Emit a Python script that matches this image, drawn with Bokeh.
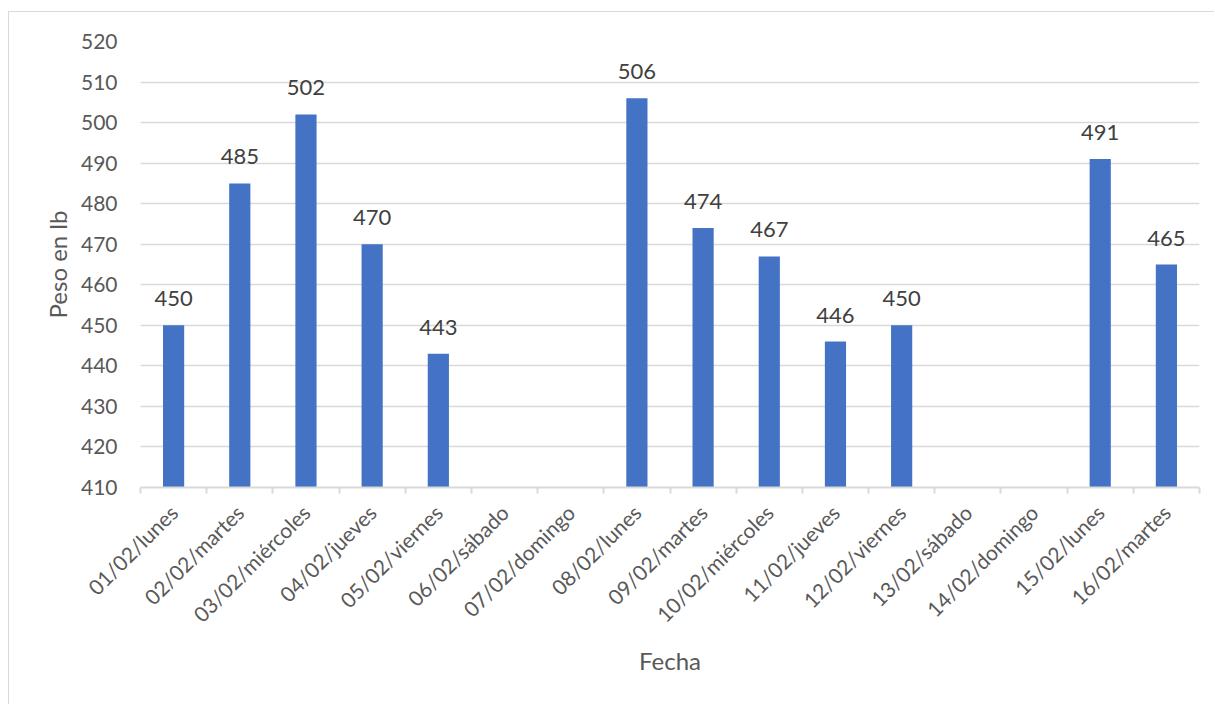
import numpy as np
from bokeh.plotting import figure
from bokeh.models import Range1d, FixedTicker, ColumnDataSource
from bokeh.embed import file_html
from bokeh.resources import INLINE
from bokeh.core.properties import value

categories = ["01/02/lunes", "02/02/martes", "03/02/miércoles", "04/02/jueves",
              "05/02/viernes", "06/02/sábado", "07/02/domingo", "08/02/lunes",
              "09/02/martes", "10/02/miércoles", "11/02/jueves", "12/02/viernes",
              "13/02/sábado", "14/02/domingo", "15/02/lunes", "16/02/martes"]
weights = [450, 485, 502, 470, 443, None, None, 506, 474, 467, 446, 450, None, None, 491, 465]
y_ticks = [410, 420, 430, 440, 450, 460, 470, 480, 490, 500, 510, 520]
y_label = "Peso en lb"
x_label = "Fecha"

FONT = "Lato"
TICK_COLOR = "#595959"
GRID = "#D9D9D9"

n = len(categories)
centers = np.arange(n) + 0.5
idx = [i for i, v in enumerate(weights) if v is not None]
src = ColumnDataSource(dict(
    x=[centers[i] for i in idx],
    top=[weights[i] for i in idx],
    label=[str(weights[i]) for i in idx],
))

p = figure(width=1206, height=693, output_backend="svg", toolbar_location=None,
           x_range=Range1d(0, n), y_range=Range1d(min(y_ticks), max(y_ticks)),
           min_border_left=131, min_border_right=16, min_border_top=29, min_border_bottom=218)
p.margin = (11, 0, 0, 8)
p.styles = {"border-left": "1px solid #D9D9D9", "border-top": "1px solid #D9D9D9"}
p.outline_line_color = None

p.vbar(x="x", top="top", bottom=min(y_ticks), width=0.32, source=src,
       fill_color="#4472C4", line_color=None)
p.text(x="x", y="top", text="label", source=src, text_align="center",
       text_baseline="bottom", y_offset=-19, text_font=value(FONT),
       text_font_size="22px", text_color="#404040")

# y axis
p.yaxis.ticker = FixedTicker(ticks=y_ticks)
p.yaxis.axis_line_color = None
p.yaxis.major_tick_line_color = None
p.yaxis.minor_tick_line_color = None
p.yaxis.major_label_standoff = 17
p.yaxis.major_label_text_font = FONT
p.yaxis.major_label_text_font_size = "21px"
p.yaxis.major_label_text_color = TICK_COLOR
p.yaxis.axis_label = y_label
p.yaxis.axis_label_text_font = FONT
p.yaxis.axis_label_text_font_size = "24px"
p.yaxis.axis_label_text_font_style = "normal"
p.yaxis.axis_label_text_color = TICK_COLOR
p.yaxis.axis_label_standoff = 6

# x axis
p.xaxis.ticker = FixedTicker(ticks=list(centers), minor_ticks=list(np.arange(n + 1)))
p.xaxis.major_label_overrides = {float(c): cat for c, cat in zip(centers, categories)}
p.xaxis.major_label_orientation = np.pi / 4
p.xaxis.axis_line_color = GRID
p.xaxis.axis_line_width = 2
p.xaxis.major_tick_line_color = None
p.xaxis.minor_tick_line_color = GRID
p.xaxis.minor_tick_line_width = 2
p.xaxis.minor_tick_in = 0
p.xaxis.minor_tick_out = 6
p.xaxis.major_label_standoff = 15
p.xaxis.major_label_text_font = FONT
p.xaxis.major_label_text_font_size = "21px"
p.xaxis.major_label_text_color = TICK_COLOR
p.xaxis.axis_label = x_label
p.xaxis.axis_label_text_font = FONT
p.xaxis.axis_label_text_font_size = "24px"
p.xaxis.axis_label_text_font_style = "normal"
p.xaxis.axis_label_text_color = TICK_COLOR
p.xaxis.axis_label_standoff = 7

p.xgrid.grid_line_color = None
p.ygrid.ticker = FixedTicker(ticks=y_ticks)
p.ygrid.grid_line_color = GRID
p.ygrid.grid_line_width = 1.5

open("out.html", "w").write(file_html(p, INLINE))
